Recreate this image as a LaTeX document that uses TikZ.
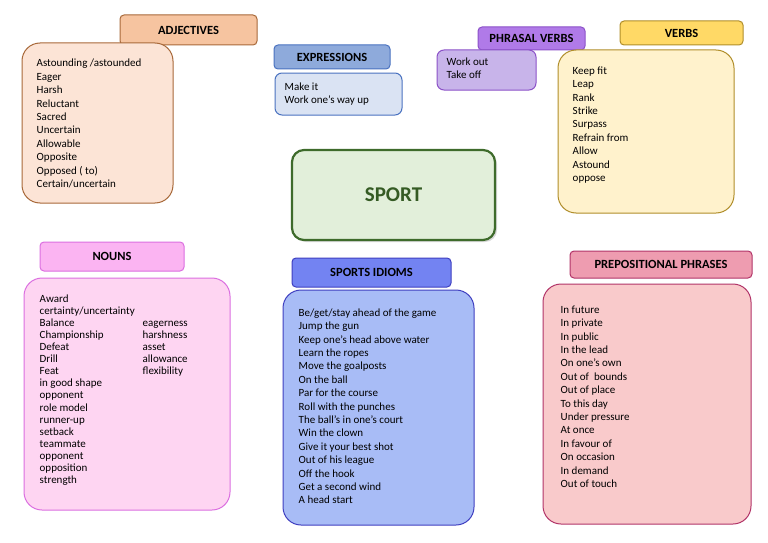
\documentclass[tikz,border=0pt]{standalone}
\usepackage{fontspec}
\setmainfont{Carlito}
\usetikzlibrary{positioning, shadows}

% colours of the boxes
\definecolor{adjfill}{HTML}{FCE4D6}
\definecolor{adjhfill}{HTML}{F6C4A0}
\definecolor{adjline}{HTML}{A8693A}
\definecolor{expfill}{HTML}{DAE3F3}
\definecolor{exphfill}{HTML}{8EAADB}
\definecolor{expline}{HTML}{4A72C0}
\definecolor{phrfill}{HTML}{C8B4EA}
\definecolor{phrhfill}{HTML}{B07AE8}
\definecolor{phrline}{HTML}{8C52C8}
\definecolor{verbfill}{HTML}{FFF2CC}
\definecolor{verbhfill}{HTML}{FFD966}
\definecolor{verbline}{HTML}{B08E2A}
\definecolor{sportfill}{HTML}{E2EFDA}
\definecolor{sportline}{HTML}{3E6B2B}
\definecolor{nounfill}{HTML}{FED5F2}
\definecolor{nounhfill}{HTML}{FBB4F2}
\definecolor{nounline}{HTML}{DB6FE0}
\definecolor{idiomfill}{HTML}{A8BCF6}
\definecolor{idiomhfill}{HTML}{7383F2}
\definecolor{idiomline}{HTML}{3F3FC0}
\definecolor{prepfill}{HTML}{F9CACB}
\definecolor{prephfill}{HTML}{EE9CB0}
\definecolor{prepline}{HTML}{B23468}

\begin{document}
\begin{tikzpicture}[x=1pt, y=-1pt,
    headbox/.style={draw, rounded corners=4pt, line width=1pt, inner sep=0pt,
        font=\bfseries\fontsize{12.5}{14}\selectfont},
    bodybox/.style={draw, rounded corners=18pt, line width=1pt, inner sep=0pt},
    wordlist/.style={align=left, inner sep=0pt, font=\fontsize{11}{13.4}\selectfont}]

    \useasboundingbox[fill=white] (0,0) rectangle (768,543);

    % Adjectives
    \node[headbox, fill=adjhfill, draw=adjline, minimum width=137pt, minimum height=30pt] (adjhead) at (188.5,30) {ADJECTIVES};
    \node[bodybox, fill=adjfill, draw=adjline, minimum width=151pt, minimum height=160pt] (adjbox) at (97.5,123) {};
    \node[wordlist, below right=16.5pt and 15pt of adjbox.north west] (adjlist) {Astounding /astounded\\Eager\\Harsh\\Reluctant\\Sacred\\Uncertain\\Allowable\\Opposite\\Opposed ( to)\\Certain/uncertain};

    % Expressions
    \node[headbox, fill=exphfill, draw=expline, minimum width=116pt, minimum height=24pt] (exphead) at (332,57) {EXPRESSIONS};
    \node[bodybox, rounded corners=7pt, fill=expfill, draw=expline, minimum width=127pt, minimum height=42pt] (expbox) at (338.5,94) {};
    \node[wordlist, below right=10pt and 10pt of expbox.north west] (explist) {Make it\\Work one’s way up};

    % Phrasal verbs
    \node[headbox, fill=phrhfill, draw=phrline, minimum width=107pt, minimum height=23pt] (phrhead) at (531.5,38.5) {PHRASAL VERBS};
    \node[bodybox, rounded corners=7pt, fill=phrfill, draw=phrline, minimum width=99pt, minimum height=40pt] (phrbox) at (486.5,70) {};
    \node[wordlist, below right=8pt and 10pt of phrbox.north west] (phrlist) {Work out\\Take off};

    % Verbs
    \node[headbox, fill=verbhfill, draw=verbline, minimum width=123pt, minimum height=24pt] (verbhead) at (681.5,33) {VERBS};
    \node[bodybox, fill=verbfill, draw=verbline, minimum width=176pt, minimum height=163pt] (verbbox) at (646,131.5) {};
    \node[wordlist, below right=17pt and 15pt of verbbox.north west] (verblist) {Keep fit\\Leap\\Rank\\Strike\\Surpass\\Refrain from\\Allow\\Astound\\oppose};

    % Centre
    \node[draw=sportline, fill=sportfill, rounded corners=12pt, line width=2.2pt,
        drop shadow={opacity=0.3, shadow xshift=2pt, shadow yshift=-2pt},
        minimum width=203pt, minimum height=90pt, text=sportline!85!black,
        font=\bfseries\fontsize{21}{24}\selectfont] (sport) at (393.5,195) {SPORT};

    % Nouns
    \node[headbox, fill=nounhfill, draw=nounline, minimum width=144pt, minimum height=29pt] (nounhead) at (112,256.5) {NOUNS};
    \node[bodybox, fill=nounfill, draw=nounline, minimum width=206pt, minimum height=232pt] (nounbox) at (127,394) {};
    \node[wordlist, font=\fontsize{11}{12.1}\selectfont, below right=16pt and 16pt of nounbox.north west] (nounlist) {%
        \begin{tabular}{@{}p{103pt}@{}l@{}}
        Award & \\ certainty/uncertainty & \\ Balance & eagerness\\ Championship & harshness\\
        Defeat & asset\\ Drill & allowance\\ Feat & flexibility\\ in good shape & \\
        opponent & \\ role model & \\ runner-up & \\ setback & \\ teammate & \\
        opponent & \\ opposition & \\ strength &
        \end{tabular}};

    % Sports idioms
    \node[headbox, fill=idiomhfill, draw=idiomline, minimum width=159pt, minimum height=29pt] (idiomhead) at (371.5,272.5) {SPORTS IDIOMS};
    \node[bodybox, fill=idiomfill, draw=idiomline, minimum width=191pt, minimum height=235pt] (idiombox) at (378.5,407.5) {};
    \node[wordlist, below right=19pt and 16pt of idiombox.north west] (idiomlist) {Be/get/stay ahead of the game\\Jump the gun\\Keep one’s head above water\\Learn the ropes\\Move the goalposts\\On the ball\\Par for the course\\Roll with the punches\\The ball’s in one’s court\\Win the clown\\Give it your best shot\\Out of his league\\Off the hook\\Get a second wind\\A head start};

    % Prepositional phrases
    \node[headbox, fill=prephfill, draw=prepline, minimum width=182pt, minimum height=27pt] (prephead) at (661,264.5) {PREPOSITIONAL PHRASES};
    \node[bodybox, fill=prepfill, draw=prepline, minimum width=208pt, minimum height=240pt] (prepbox) at (647,404) {};
    \node[wordlist, below right=22pt and 18pt of prepbox.north west] (preplist) {In future\\In private\\In public\\In the lead\\On one’s own\\Out of~ bounds\\Out of place\\To this day\\Under pressure\\At once\\In favour of\\On occasion\\In demand\\Out of touch};

\end{tikzpicture}
\end{document}
